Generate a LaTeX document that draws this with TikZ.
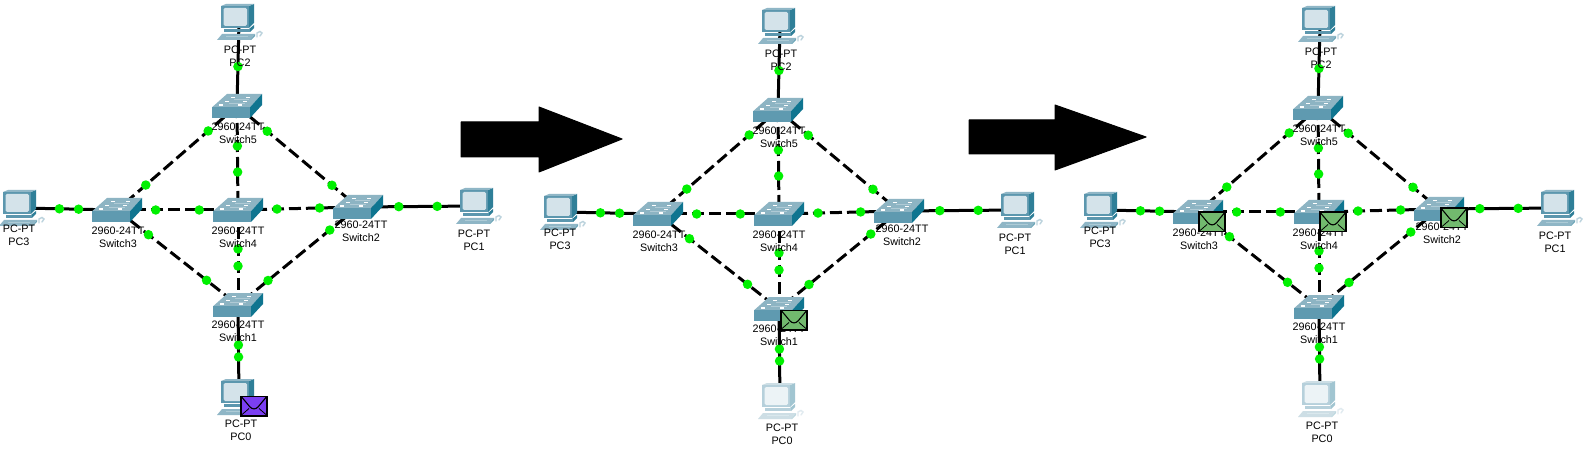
\documentclass[tikz,border=0pt]{standalone}
\usepackage{fontspec}
\setmainfont{Liberation Sans}
\usetikzlibrary{backgrounds}
\definecolor{pcf}{HTML}{5C97AE}
\definecolor{pcs}{HTML}{2F7F98}
\definecolor{pct}{HTML}{8FB6C6}
\definecolor{pcscr}{HTML}{D4E3EA}
\definecolor{swf}{HTML}{5F9AB0}
\definecolor{sws}{HTML}{0F7590}
\definecolor{swt}{HTML}{8DB4C3}
\definecolor{linkdot}{HTML}{00F000}
\definecolor{msgpurple}{HTML}{7B3FF2}
\definecolor{msggreen}{HTML}{72B96E}
\tikzset{
  x=1pt,y=-1pt,
  hub/.style={inner sep=0pt,minimum size=0pt,outer sep=0pt},
  devlabel/.style={align=center,inner sep=0pt,font=\fontsize{10.8}{12.8}\selectfont,text=black},
  solidlink/.style={line width=3pt,draw=black},
  dashlink/.style={line width=3pt,draw=black,dash pattern=on 12pt off 5pt},
  linkmark/.style={circle,fill=linkdot,inner sep=0pt,minimum size=9.5pt},
  faded/.code={\colorlet{pcf}{pcf!45!white}\colorlet{pcs}{pcs!45!white}\colorlet{pct}{pct!45!white}\colorlet{pcscr}{pcscr!45!white}},
  bigarrow/.style={fill=black,draw=black,line width=1pt,line join=round},
  pics/pcicon/.style={code={
    \fill[pcs] (10,-16)--(15,-18)--(15,1)--(10,6)--cycle;
    \fill[pct] (-18,-16)--(-13,-18)--(15,-18)--(10,-16)--cycle;
    \fill[pcf] (-18,-16) rectangle (10,6);
    \fill[pcscr,rounded corners=1.5pt] (-15.5,-14) rectangle (8,4);
    \fill[pcs] (10,7)--(15,3)--(15,6)--(11,10)--cycle;
    \fill[pcf] (-15,7) rectangle (11,10);
    \fill[pct] (-22,18)--(-17,12)--(16,12)--(11,18)--cycle;
    \fill[pcs!70!white] (11,18)--(16,12)--(16,14)--(12,18)--cycle;
    \draw[pcf!50!white,line width=.8pt] (-13,14.5)--(9,14.5);
    \draw[pct!60!white,line width=1.4pt,line cap=round] (18,15)--(18,11)--(21,9.5)--(23,11)--(21,14);
  }},
  pics/swicon/.style={code={
    \fill[swt] (-25,1.3)--(-10,-12)--(25,-12)--(13,1.3)--cycle;
    \fill[sws] (13,1.3)--(25,-12)--(25,-1)--(13,12)--cycle;
    \fill[swf] (-25,1.3) rectangle (13,12);
    \draw[white,line width=1.2pt]
      (-6,-8.5)--(-2,-8.5) (9,-8.5)--(13,-8.5)
      (-12,-4.5)--(-8,-4.5) (6,-4.5)--(10,-4.5)
      (-18,-1)--(-14,-1) (1,-1)--(5,-1);
    \draw[swt!70!white,line width=.6pt] (-3,-6.5)--(12,-6.5) (-8,-2.5)--(8,-2.5);
  }},
  pics/msgicon/.style={code={
    \fill[#1,draw=black,line width=1.6pt] (-13,-9.7) rectangle (13,9.7);
    \draw[black,line width=1.1pt] (-12.5,-9.2)--(-4,1) .. controls (-1.5,3.5) and (1.5,3.5) .. (4,1)--(12.5,-9.2);
    \draw[black,line width=.8pt] (-12.5,9)--(-5,2.5) (12.5,9)--(5,2.5);
  }},
}
\newcommand{\netpanel}[4]{%
\begin{scope}[shift={(#2,#3)}]
  \node[hub] (#1pctwo) at (239,22) {};
  \node[hub] (#1pcthree) at (21,208) {};
  \node[hub] (#1pcone) at (478,206) {};
  \node[hub] (#1pczero) at (239,397) {};
  \node[hub] (#1swfive) at (237,106) {};
  \node[hub] (#1swthree) at (117,210) {};
  \node[hub] (#1swfour) at (238,210) {};
  \node[hub] (#1swtwo) at (358,207) {};
  \node[hub] (#1swone) at (238,305) {};
  \begin{scope}[on background layer]
    \draw[solidlink] (#1pctwo.center) -- (#1swfive.center) node[linkmark,pos=.53] {};
    \draw[solidlink] (#1swthree.center) -- (#1pcthree.center) node[linkmark,pos=.4] {} node[linkmark,pos=.6] {};
    \draw[solidlink] (#1swtwo.center) -- (#1pcone.center) node[linkmark,pos=.34] {} node[linkmark,pos=.66] {};
    \draw[solidlink] (#1swone.center) -- (#1pczero.center) node[linkmark,pos=.435] {} node[linkmark,pos=.565] {};
    \draw[dashlink] (#1swfive.center) -- (#1swthree.center) node[linkmark,pos=.24] {} node[linkmark,pos=.76] {};
    \draw[dashlink] (#1swfive.center) -- (#1swfour.center) node[linkmark,pos=.385] {} node[linkmark,pos=.635] {};
    \draw[dashlink] (#1swfive.center) -- (#1swtwo.center) node[linkmark,pos=.25] {} node[linkmark,pos=.785] {};
    \draw[dashlink] (#1swthree.center) -- (#1swfour.center) node[linkmark,pos=.32] {} node[linkmark,pos=.68] {};
    \draw[dashlink] (#1swfour.center) -- (#1swtwo.center) node[linkmark,pos=.325] {} node[linkmark,pos=.68] {};
    \draw[dashlink] (#1swthree.center) -- (#1swone.center) node[linkmark,pos=.26] {} node[linkmark,pos=.74] {};
    \draw[dashlink] (#1swtwo.center) -- (#1swone.center) node[linkmark,pos=.235] {} node[linkmark,pos=.75] {};
    \draw[dashlink] (#1swfour.center) -- (#1swone.center) node[linkmark,pos=.41] {} node[linkmark,pos=.59] {};
  \end{scope}
  \pic at (#1pctwo) {pcicon};
  \pic at (#1pcthree) {pcicon};
  \pic at (#1pcone) {pcicon};
  \pic[#4] at (#1pczero) {pcicon};
  \pic at (#1swfive) {swicon};
  \pic at (#1swthree) {swicon};
  \pic at (#1swfour) {swicon};
  \pic at (#1swtwo) {swicon};
  \pic at (#1swone) {swicon};
  \node[devlabel] (#1pctwot) at (240,56.5) {PC-PT\\PC2};
  \node[devlabel] (#1pcthreet) at (19,235) {PC-PT\\PC3};
  \node[devlabel] (#1pconet) at (474,240) {PC-PT\\PC1};
  \node[devlabel] (#1pczerot) at (241,430.5) {PC-PT\\PC0};
  \node[devlabel] (#1swfivet) at (238,133) {2960-24TT\\Switch5};
  \node[devlabel] (#1swthreet) at (118,237) {2960-24TT\\Switch3};
  \node[devlabel] (#1swfourt) at (238,237) {2960-24TT\\Switch4};
  \node[devlabel] (#1swtwot) at (361,231) {2960-24TT\\Switch2};
  \node[devlabel] (#1swonet) at (238,331.5) {2960-24TT\\Switch1};
\end{scope}}
\begin{document}
\begin{tikzpicture}
\useasboundingbox (0,0) rectangle (1592,454);
\begin{scope}[on background layer]
\fill[white] (0,0) rectangle (1592,454);
\end{scope}
\netpanel{a}{0}{0}{}
\netpanel{b}{541}{4}{faded}
\netpanel{c}{1081}{2}{faded}
\fill[bigarrow] (461,122)--(539,122)--(539,107)--(622,139)--(539,172)--(539,157)--(461,157)--cycle;
\fill[bigarrow] (969,120)--(1055,120)--(1055,105)--(1146,137)--(1055,170)--(1055,154)--(969,154)--cycle;
\pic at (254,406) {msgicon=msgpurple};
\pic at (794,320) {msgicon=msggreen};
\pic at (1212,222) {msgicon=msggreen};
\pic at (1333,222) {msgicon=msggreen};
\pic at (1454,218) {msgicon=msggreen};
\end{tikzpicture}
\end{document}
